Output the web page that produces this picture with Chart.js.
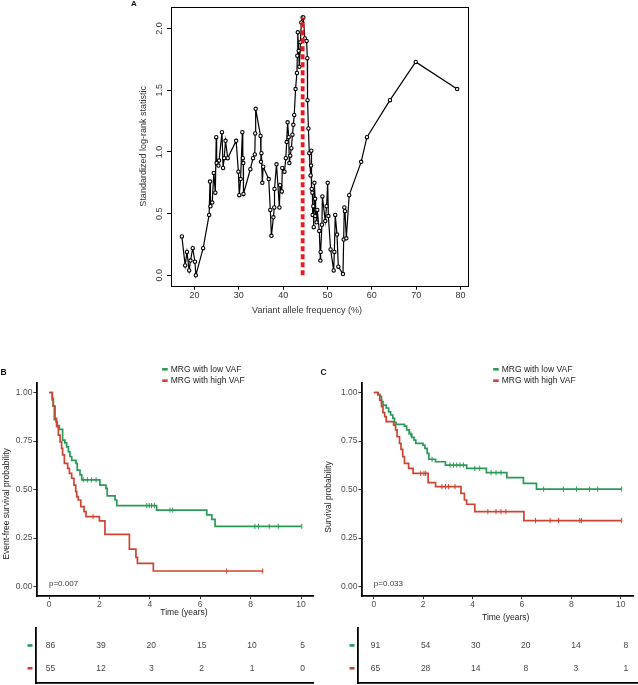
<!DOCTYPE html>
<html><head><meta charset="utf-8">
<script src="https://cdn.jsdelivr.net/npm/chart.js@4.4.0/dist/chart.umd.min.js"></script>
<style>
html,body{margin:0;padding:0;background:#fff;}
#wrap{position:relative;width:638px;height:685px;overflow:hidden;background:#fff;}
canvas{position:absolute;}
</style></head><body>
<div id="wrap">
<canvas id="cA" width="400" height="320" style="left:100px;top:0px"></canvas>
<canvas id="cB" width="320" height="265" style="left:0px;top:360px"></canvas>
<canvas id="cC" width="318" height="265" style="left:320px;top:360px"></canvas>
<canvas id="tB" width="320" height="60" style="left:0px;top:625px"></canvas>
<canvas id="tC" width="318" height="60" style="left:320px;top:625px"></canvas>
</div>
<script>
// ---------------- DATA ----------------
// Panel A: maximally selected rank statistic vs VAF
const vaf = [17.15,17.9,18.3,18.8,19.1,19.6,20.1,20.3,21.95,23.3,23.5,23.6,24.0,24.35,24.7,24.9,25.0,25.4,25.55,26.2,26.45,26.7,27.0,27.5,29.4,29.9,30.1,30.4,30.8,30.9,31.0,31.05,32.6,33.2,33.6,33.7,33.8,34.9,35.0,35.1,35.3,35.5,36.75,37.1,37.35,37.8,38.0,38.05,38.5,39.15,39.3,39.7,39.8,40.3,40.6,40.8,41.0,41.25,41.4,41.6,41.85,42.1,42.3,42.5,42.8,43.1,43.2,43.3,43.5,43.65,43.9,44.1,44.4,44.55,44.9,45.3,45.45,45.5,45.7,45.9,46.2,46.3,46.35,46.45,46.6,46.65,46.8,46.9,47.05,47.2,47.25,47.4,47.55,47.7,48.15,48.4,48.45,48.75,48.85,49.5,49.8,50.05,50.2,50.7,51.4,51.55,51.75,52.15,52.45,53.5,53.65,53.8,53.95,54.25,54.9,57.6,58.9,64.1,69.9,79.25];
const logrankStat = [0.315,0.08,0.19,0.04,0.12,0.22,0.11,0.0,0.22,0.49,0.76,0.56,0.59,0.83,0.67,1.12,0.91,0.89,0.93,1.16,0.87,0.95,1.09,0.95,1.09,0.84,0.65,0.78,1.16,0.95,0.91,0.66,0.86,0.95,0.98,1.15,1.35,1.13,0.92,0.99,0.75,0.88,0.78,0.53,0.32,0.47,0.55,0.70,0.90,0.55,0.73,0.68,0.87,0.84,0.95,1.08,1.24,1.12,0.91,0.97,1.03,1.14,1.22,1.30,1.51,1.64,1.78,1.97,1.82,1.69,1.89,2.05,2.09,2.09,1.92,1.90,1.76,1.42,1.19,0.99,0.81,0.89,1.01,0.70,0.67,0.49,0.56,0.39,0.75,0.62,0.48,0.53,0.43,0.53,0.36,0.12,0.19,0.41,0.64,0.44,0.56,0.75,0.48,0.21,0.04,0.19,0.49,0.33,0.07,0.01,0.29,0.55,0.52,0.30,0.65,0.92,1.12,1.42,1.73,1.51];
const cutoffVaf = 44.4;
const xTicksA = [20,30,40,50,60,70,80];
const yTicksA = [0,0.5,1.0,1.5,2.0];

// Panel B: event-free survival
const efsLowTime  = [0,0.13,0.17,0.21,0.28,0.33,0.41,0.54,0.63,0.70,0.77,0.83,0.90,1.07,1.12,1.23,1.30,2.02,2.26,2.31,2.62,2.69,4.27,6.26,6.46,6.59,10.03];
const efsLowSurv  = [1,0.96,0.93,0.86,0.85,0.83,0.81,0.755,0.74,0.72,0.695,0.67,0.65,0.635,0.60,0.575,0.55,0.523,0.506,0.467,0.446,0.417,0.394,0.369,0.346,0.31,0.31];
const efsLowCens  = [1.36,1.52,1.69,1.87,3.88,3.98,4.07,4.18,4.80,4.91,8.17,8.31,8.74,9.10,10.03];
const efsHighTime = [0,0.13,0.17,0.24,0.30,0.37,0.44,0.50,0.54,0.61,0.74,0.81,0.90,0.99,1.06,1.10,1.16,1.26,1.39,1.47,2.00,2.22,3.19,3.45,3.51,4.14,8.48];
const efsHighSurv = [1,0.97,0.93,0.867,0.824,0.78,0.746,0.712,0.678,0.635,0.609,0.583,0.558,0.523,0.489,0.463,0.446,0.412,0.386,0.36,0.338,0.269,0.193,0.15,0.119,0.08,0.08];
const efsHighCens = [1.75,7.05,8.48];

// Panel C: overall survival
const osLowTime  = [0,0.17,0.24,0.31,0.37,0.50,0.60,0.68,0.77,0.84,0.90,1.24,1.33,1.43,1.54,1.63,1.70,1.99,2.07,2.16,2.23,2.50,2.90,3.76,4.56,5.39,6.06,6.59,10.04];
const osLowSurv  = [1,0.99,0.98,0.953,0.935,0.92,0.90,0.884,0.867,0.845,0.836,0.827,0.807,0.786,0.769,0.755,0.738,0.729,0.712,0.686,0.656,0.643,0.626,0.609,0.587,0.561,0.532,0.502,0.502];
const osLowCens  = [1.50,2.36,3.09,3.23,3.36,3.49,3.63,4.09,4.29,4.75,4.95,5.15,6.88,7.68,8.21,8.74,9.07,10.04];
const osHighTime = [0,0.17,0.24,0.31,0.37,0.44,0.50,0.80,0.88,0.94,1.04,1.10,1.17,1.24,1.41,1.59,2.20,2.50,3.53,3.67,3.76,4.09,6.08,10.04];
const osHighSurv = [1,0.987,0.961,0.927,0.896,0.876,0.85,0.832,0.807,0.772,0.738,0.707,0.669,0.635,0.609,0.583,0.535,0.515,0.48,0.446,0.424,0.386,0.34,0.34];
const osHighCens = [1.90,2.03,2.10,2.76,2.90,3.03,3.29,4.62,4.95,5.15,5.35,6.55,7.14,7.48,8.34,8.41,10.04];

const kmTicksX = [0,2,4,6,8,10];
const kmTicksY = [0,0.25,0.5,0.75,1.0];
const groupLabels = ['MRG with low VAF','MRG with high VAF'];
const pValueB = 'p=0.007';
const pValueC = 'p=0.033';

// Numbers at risk
const riskTimes = [0,2,4,6,8,10];
const riskLowB  = [86,39,20,15,10,5];
const riskHighB = [55,12,3,2,1,0];
const riskLowC  = [91,54,30,20,14,8];
const riskHighC = [65,28,14,8,3,1];

// ---------------- STYLE ----------------
const FF = '"Liberation Sans", Arial, Helvetica, sans-serif';
const GREEN = '#2a9a58';
const RED = '#cc4533';

function fixTicks(vals){ return s => { s.ticks = vals.map(v => ({value: v})); }; }
function survAt(times, surv, t){ let k = 0; for (let i = 0; i < times.length; i++){ if (times[i] <= t) k = i; } return surv[k]; }

// generic text plugin: items in canvas coordinates
function textPlugin(items){
  return { id: 'txt', afterDraw(chart){
    const ctx = chart.ctx;
    items(chart).forEach(it => {
      ctx.save();
      ctx.font = (it.bold ? 'bold ' : '') + it.size + 'px ' + FF;
      ctx.fillStyle = it.color || '#222';
      ctx.textAlign = it.align || 'center';
      ctx.textBaseline = 'middle';
      ctx.translate(it.x, it.y);
      if (it.rot) ctx.rotate(it.rot);
      ctx.fillText(it.text, 0, 0);
      ctx.restore();
    });
  }};
}

// ---------------- PANEL A ----------------
const boxPlugin = { id: 'box', afterDatasetsDraw(chart){
  const a = chart.chartArea, ctx = chart.ctx;
  ctx.save(); ctx.strokeStyle = '#000'; ctx.lineWidth = 1;
  ctx.strokeRect(Math.round(a.left)+0.5, Math.round(a.top)+0.5, Math.round(a.right-a.left), Math.round(a.bottom-a.top));
  ctx.restore();
}};

new Chart(document.getElementById('cA'), {
  type: 'scatter',
  data: { datasets: [
    { data: [{x: cutoffVaf, y: 0}, {x: cutoffVaf, y: Math.max(...logrankStat)}], showLine: true,
      borderColor: '#e8191f', borderWidth: 3.8, borderDash: [5, 3], pointRadius: 0 },
    { data: vaf.map((v, i) => ({x: v, y: logrankStat[i]})), showLine: true, borderColor: '#000', borderWidth: 1.2,
      pointRadius: 1.7, pointBackgroundColor: '#fff', pointBorderColor: '#000', pointBorderWidth: 1.1 }
  ]},
  options: {
    responsive: false, animation: false, events: [],
    layout: { padding: { top: 7, right: 32, left: 0, bottom: 0 } },
    plugins: { legend: { display: false }, tooltip: { enabled: false } },
    scales: {
      x: { type: 'linear', min: 14.7, max: 81.7, afterBuildTicks: fixTicks(xTicksA), afterFit: s => { s.height = 34.3; },
           grid: { drawOnChartArea: false, drawTicks: true, tickLength: 4, color: '#000' }, border: { display: false },
           ticks: { padding: 0, color: '#333', font: { family: FF, size: 9 }, maxRotation: 0, autoSkip: false } },
      y: { type: 'linear', min: -0.084, max: 2.175, afterBuildTicks: fixTicks(yTicksA), afterFit: s => { s.width = 71; },
           grid: { drawOnChartArea: false, drawTicks: true, tickLength: 4, color: '#000' }, border: { display: false },
           ticks: { display: false } }
    }
  },
  plugins: [boxPlugin, textPlugin(chart => {
    const a = chart.chartArea, y = chart.scales.y;
    const out = yTicksA.map(v => ({ text: v.toFixed(1), x: a.left - 11, y: y.getPixelForValue(v), size: 9, color: '#333', rot: -Math.PI/2 }));
    out.push({ text: 'Standardized log-rank statistic', x: 43.5, y: (a.top + a.bottom)/2, size: 9, color: '#333', rot: -Math.PI/2 });
    out.push({ text: 'Variant allele frequency (%)', x: 207, y: 311, size: 9, color: '#333' });
    out.push({ text: 'A', x: 34, y: 4, size: 8, bold: true, color: '#111' });
    return out;
  })]
});

// ---------------- KM PANELS ----------------
function kmChart(id, lowT, lowS, lowC, highT, highS, highC, cfg){
  const mk = (t, s) => t.map((v, i) => ({x: v, y: s[i]}));
  const cens = (c, t, s) => c.map(v => ({x: v, y: survAt(t, s, v)}));
  return new Chart(document.getElementById(id), {
    type: 'scatter',
    data: { datasets: [
      { data: cens(highC, highT, highS), showLine: false, pointStyle: 'line', rotation: 90, pointRadius: 2.6, pointBorderColor: RED, pointBorderWidth: 1, borderColor: RED },
      { data: cens(lowC, lowT, lowS), showLine: false, pointStyle: 'line', rotation: 90, pointRadius: 2.6, pointBorderColor: GREEN, pointBorderWidth: 1, borderColor: GREEN },
      { data: mk(highT, highS), showLine: true, stepped: 'before', borderColor: RED, borderWidth: 1.7, pointRadius: 0 },
      { data: mk(lowT, lowS), showLine: true, stepped: 'before', borderColor: GREEN, borderWidth: 1.7, pointRadius: 0 }
    ]},
    options: {
      responsive: false, animation: false, events: [],
      layout: { padding: { top: 22.8, right: cfg.padRight, left: 0, bottom: 0 } },
      plugins: { legend: { display: false }, tooltip: { enabled: false } },
      scales: {
        x: { type: 'linear', min: cfg.xmin, max: cfg.xmax, afterBuildTicks: fixTicks(kmTicksX), afterFit: s => { s.height = 28.8; },
             grid: { drawOnChartArea: false, drawTicks: true, tickLength: 3, color: '#333' }, border: { display: true, color: '#000', width: 1.8 },
             ticks: { padding: 0, color: '#4d4d4d', font: { family: FF, size: 8.5 }, maxRotation: 0, autoSkip: false } },
        y: { type: 'linear', min: -0.05, max: 1.05, afterBuildTicks: fixTicks(kmTicksY), afterFit: s => { s.width = cfg.yWidth; },
             grid: { drawOnChartArea: false, drawTicks: true, tickLength: 3, color: '#333' }, border: { display: true, color: '#000', width: 1.8 },
             ticks: { padding: 1, color: '#4d4d4d', font: { family: FF, size: 8.5 }, callback: v => Number(v).toFixed(2) } }
      }
    },
    plugins: [textPlugin(chart => {
      const xs = chart.scales.x, ys = chart.scales.y;
      const out = [];
      out.push({ text: cfg.letter, x: cfg.letterX, y: 13, size: 8.5, bold: true, color: '#111' });
      out.push({ text: groupLabels[0], x: cfg.legX, y: 9.3, size: 8.5, color: '#222', align: 'left' });
      out.push({ text: groupLabels[1], x: cfg.legX, y: 20.7, size: 8.5, color: '#222', align: 'left' });
      out.push({ text: cfg.ytitle, x: cfg.ytitleX, y: cfg.ytitleY, size: 8.5, color: '#222', rot: -Math.PI/2 });
      out.push({ text: 'Time (years)', x: cfg.xtitleX, y: cfg.xtitleY, size: 8.5, color: '#222' });
      out.push({ text: cfg.p, x: xs.getPixelForValue(0), y: ys.getPixelForValue(0.013), size: 8, color: '#333', align: 'left' });
      return out;
    }), { id: 'legmarks', afterDraw(chart){
      const ctx = chart.ctx;
      ctx.save();
      ctx.fillStyle = GREEN; ctx.fillRect(cfg.legX - 8.5, 8, 5.5, 2.6);
      ctx.fillStyle = RED; ctx.fillRect(cfg.legX - 8.5, 19.4, 5.5, 2.6);
      ctx.restore();
    }}]
  });
}

kmChart('cB', efsLowTime, efsLowSurv, efsLowCens, efsHighTime, efsHighSurv, efsHighCens,
  { xmin: -0.5, xmax: 10.5, padRight: 6.4, yWidth: 36.4, letter: 'B', letterX: 3.5, legX: 170.7,
    ytitle: 'Event-free survival probability', ytitleX: 6.5, ytitleY: 144, xtitleX: 184, xtitleY: 253, p: pValueB });
kmChart('cC', osLowTime, osLowSurv, osLowCens, osHighTime, osHighSurv, osHighCens,
  { xmin: -0.5, xmax: 10.5, padRight: 1, yWidth: 41.5, letter: 'C', letterX: 3.5, legX: 181.7,
    ytitle: 'Survival probability', ytitleX: 8.5, ytitleY: 137, xtitleX: 185.7, xtitleY: 257.7, p: pValueC });

// ---------------- RISK TABLES ----------------
function riskTable(id, low, high, cfg){
  return new Chart(document.getElementById(id), {
    type: 'scatter',
    data: { datasets: [
      { data: riskTimes.map((t, i) => ({x: t, y: 1})), pointRadius: 0, showLine: false },
      { data: riskTimes.map((t, i) => ({x: t, y: 0})), pointRadius: 0, showLine: false }
    ]},
    options: {
      responsive: false, animation: false, events: [],
      layout: { padding: { top: 2.7, right: cfg.padRight, left: 0, bottom: 0 } },
      plugins: { legend: { display: false }, tooltip: { enabled: false } },
      scales: {
        x: { type: 'linear', min: cfg.xmin, max: cfg.xmax, afterFit: s => { s.height = 1.7; },
             grid: { display: false }, border: { display: true, color: '#000', width: 1.8 }, ticks: { display: false } },
        y: { type: 'linear', min: -0.66, max: 1.78, afterFit: s => { s.width = cfg.yWidth; },
             grid: { display: false }, border: { display: true, color: '#000', width: 1.8 }, ticks: { display: false } }
      }
    },
    plugins: [{ id: 'risk', afterDraw(chart){
      const ctx = chart.ctx, xs = chart.scales.x, ys = chart.scales.y, a = chart.chartArea;
      ctx.save();
      ctx.font = '8.5px ' + FF; ctx.fillStyle = '#444'; ctx.textAlign = 'center'; ctx.textBaseline = 'middle';
      riskTimes.forEach((t, i) => {
        ctx.fillText(String(low[i]), xs.getPixelForValue(t) + 1.5, ys.getPixelForValue(1));
        ctx.fillText(String(high[i]), xs.getPixelForValue(t) + 1.5, ys.getPixelForValue(0));
      });
      ctx.fillStyle = GREEN; ctx.fillRect(a.left - 8.5, ys.getPixelForValue(1) - 1.3, 5, 2.6);
      ctx.fillStyle = RED; ctx.fillRect(a.left - 8.5, ys.getPixelForValue(0) - 1.3, 5, 2.6);
      ctx.restore();
    }}]
  });
}

riskTable('tB', riskLowB, riskHighB, { xmin: -0.516, xmax: 10.5, padRight: 6.4, yWidth: 36 });
riskTable('tC', riskLowC, riskHighC, { xmin: -0.64, xmax: 10.5, padRight: 1, yWidth: 38 });
</script>
</body></html>
